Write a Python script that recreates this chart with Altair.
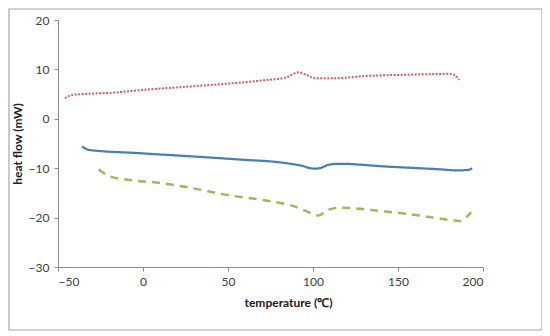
import altair as alt
import pandas as pd

# Series data
red_x = [-46.0, -41.3, -35.9, -17.2, 1.4, 22.1, 49.1, 69.8, 84.3, 91.6, 94.7, 101.6, 111.9, 132.6, 153.0, 180.0, 183.0, 186.0]
red_y = [4.2, 4.85, 5.0, 5.3, 5.9, 6.4, 7.1, 7.75, 8.4, 9.4, 9.1, 8.2, 8.2, 8.7, 8.9, 9.1, 8.9, 7.9]

blue_x = [-35.9, -31.7, -2.7, 28.4, 59.5, 80.2, 92.6, 101.0, 104.0, 109.2, 115.4, 142.4, 173.5, 186.0, 192.0, 193.6]
blue_y = [-5.6, -6.3, -6.95, -7.6, -8.3, -8.8, -9.45, -10.1, -10.0, -9.3, -9.1, -9.65, -10.2, -10.45, -10.3, -10.0]

green_x = [-26.1, -19.3, -8.9, 7.7, 28.4, 49.1, 69.8, 90.5, 101.0, 103.0, 109.2, 115.4, 142.4, 163.0, 183.7, 187.0, 190.0, 193.0]
green_y = [-10.2, -11.7, -12.35, -12.9, -14.0, -15.4, -16.4, -17.9, -19.4, -19.6, -18.4, -18.0, -18.75, -19.6, -20.6, -20.7, -20.0, -18.9]

series_names = ["red", "blue", "green"]
series_colors = ["#e05a5c", "#4a7ebb", "#9bbb59"]
series_dash = [[2, 1.5], [1, 0], [8, 6]]
series_width = [2, 2.5, 2.5]

x_ticks = [-50, 0, 50, 100, 150, 200]
y_ticks = [-30, -20, -10, 0, 10, 20]

rows = []
for name, xs, ys in [("red", red_x, red_y), ("blue", blue_x, blue_y), ("green", green_x, green_y)]:
    for i, (xv, yv) in enumerate(zip(xs, ys)):
        rows.append({"series": name, "temp": xv, "flow": yv, "order": i})
df = pd.DataFrame(rows)

W, H = 425, 247

frame = alt.Chart(pd.DataFrame({"a": [0]})).mark_rect(
    filled=False, stroke="#a6a6a6", strokeWidth=1.2
).encode(
    x=alt.value(-49), x2=alt.value(484), y=alt.value(-11), y2=alt.value(310)
)

lines = alt.Chart(df).mark_line(interpolate="monotone").encode(
    x=alt.X("temp:Q",
            scale=alt.Scale(domain=[-50, 200], nice=False, zero=False),
            axis=alt.Axis(values=x_ticks, title="temperature (\u2103)", grid=False,
                          titleX=230, titleY=30, titleBaseline="top")),
    y=alt.Y("flow:Q",
            scale=alt.Scale(domain=[-30, 20], nice=False, zero=False),
            axis=alt.Axis(values=y_ticks, title="heat flow (mW)", grid=False,
                          titleX=-41, titleBaseline="middle")),
    color=alt.Color("series:N", scale=alt.Scale(domain=series_names, range=series_colors), legend=None),
    strokeDash=alt.StrokeDash("series:N", scale=alt.Scale(domain=series_names, range=series_dash), legend=None),
    strokeWidth=alt.StrokeWidth("series:N", scale=alt.Scale(domain=series_names, range=series_width), legend=None),
    detail="series:N",
    order="order:Q",
)

chart = alt.layer(frame, lines).properties(
    width=W, height=H,
    autosize=alt.AutoSizeParams(type="none"),
    padding={"left": 50, "top": 12, "right": 59, "bottom": 66},
).configure_view(stroke=None).configure_axis(
    domainColor="#8c8c8c", tickColor="#8c8c8c", tickSize=4,
    labelColor="#404040", labelFont="Lato", labelFontSize=12, labelPadding=5,
    titleFont="Lato", titleFontSize=12, titleFontWeight="bold", titleColor="#202020",
)

chart.save("out.html", embed_options={"renderer": "svg", "actions": False})
